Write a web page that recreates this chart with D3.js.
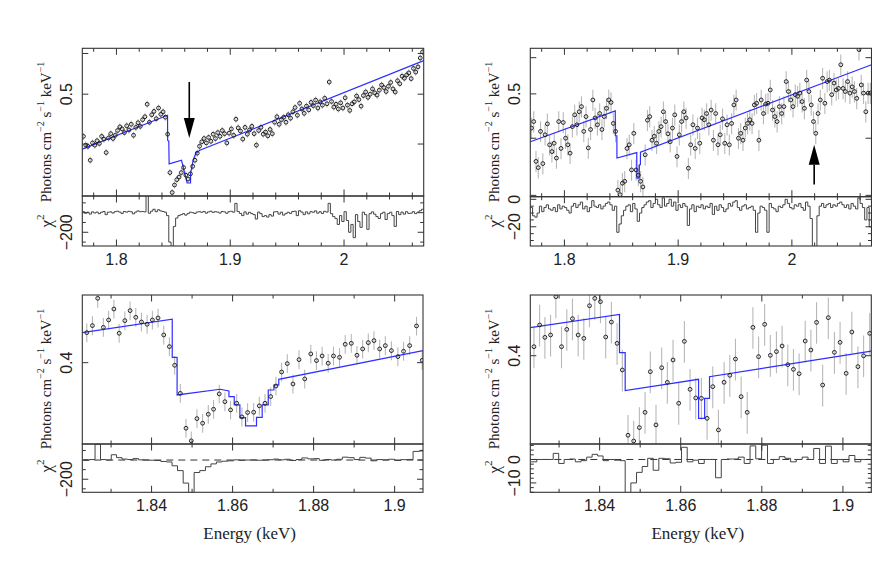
<!DOCTYPE html>
<html><head><meta charset="utf-8">
<script src="https://cdn.jsdelivr.net/npm/d3@7"></script>
<style>body{margin:0;background:#fff}svg{display:block}</style>
</head><body><svg id="c" width="872" height="563"></svg>
<script>
// ---------------- DATA ----------------
const energyTop = [1.771,1.773,1.775,1.777,1.779,1.781,1.783,1.785,1.787,1.789,
1.791,1.793,1.795,1.797,1.799,1.801,1.803,1.805,1.807,1.809,
1.811,1.813,1.815,1.817,1.819,1.821,1.823,1.825,1.827,1.829,
1.831,1.833,1.835,1.837,1.839,1.841,1.843,1.845,1.847,1.849,
1.851,1.853,1.855,1.857,1.859,1.861,1.863,1.865,1.867,1.869,
1.871,1.873,1.875,1.877,1.879,1.881,1.883,1.885,1.887,1.889,
1.891,1.893,1.895,1.897,1.899,1.901,1.903,1.905,1.907,1.909,
1.911,1.913,1.915,1.917,1.919,1.921,1.923,1.925,1.927,1.929,
1.931,1.933,1.935,1.937,1.939,1.941,1.943,1.945,1.947,1.949,
1.951,1.953,1.955,1.957,1.959,1.961,1.963,1.965,1.967,1.969,
1.971,1.973,1.975,1.977,1.979,1.981,1.983,1.985,1.987,1.989,
1.991,1.993,1.995,1.997,1.999,2.001,2.003,2.005,2.007,2.009,
2.011,2.013,2.015,2.017,2.019,2.021,2.023,2.025,2.027,2.029,
2.031,2.033,2.035,2.037,2.039,2.041,2.043,2.045,2.047,2.049,
2.051,2.053,2.055,2.057,2.059,2.061,2.063,2.065,2.067,2.069];

const fluxA = [0.414,0.398,0.396,0.372,0.402,0.398,0.406,0.401,0.414,0.409,
0.385,0.411,0.419,0.410,0.416,0.425,0.432,0.428,0.421,0.434,
0.426,0.437,0.416,0.431,0.440,0.433,0.446,0.452,0.478,0.441,
0.456,0.463,0.448,0.470,0.457,0.462,0.451,0.418,0.352,0.322,
0.333,0.341,0.345,0.352,0.360,0.348,0.342,0.350,0.362,0.372,
0.384,0.396,0.404,0.410,0.402,0.412,0.405,0.418,0.410,0.421,
0.414,0.425,0.419,0.402,0.420,0.428,0.416,0.447,0.430,0.424,
0.409,0.431,0.418,0.426,0.433,0.419,0.398,0.425,0.431,0.418,
0.422,0.415,0.427,0.419,0.441,0.452,0.437,0.446,0.451,0.441,
0.456,0.449,0.462,0.471,0.455,0.480,0.468,0.459,0.474,0.466,
0.482,0.475,0.487,0.470,0.483,0.476,0.491,0.479,0.528,0.484,
0.472,0.478,0.468,0.481,0.470,0.492,0.476,0.465,0.479,0.483,
0.496,0.488,0.474,0.497,0.505,0.493,0.500,0.512,0.503,0.498,
0.509,0.521,0.515,0.506,0.518,0.527,0.512,0.505,0.531,0.524,
0.542,0.537,0.545,0.550,0.536,0.561,0.552,0.565,0.588,0.604];

const residA = [10,-5,5,-15,8,-3,6,-10,4,12,
-20,5,8,-4,10,15,6,-8,12,5,
14,9,-12,6,18,10,12,8,180,-6,
15,35,10,30,18,12,5,-30,-300,-400,
-140,-55,-30,-20,-10,-25,-10,5,0,-8,
6,10,4,12,-5,8,15,3,10,6,
-4,12,8,-6,10,14,5,95,12,-8,
-30,8,-15,4,-10,-20,-65,6,-10,-40,
-30,-45,-20,-35,8,10,-15,5,-25,-10,
4,-8,12,15,-30,20,6,-20,8,-12,
10,4,18,-5,10,-8,14,6,95,-10,
-40,-60,-120,-30,-90,10,-80,-200,-120,-255,
-20,-90,-150,5,-20,-170,-10,8,-15,-40,
-60,-10,5,-70,-10,4,-30,-140,12,-20,
6,-15,10,-8,-5,10,-10,5,20,35];

const modelAE = [1.770,1.8449,1.8450,1.8460,1.8463,1.8572,1.8586,1.8621,1.8651,1.8652,1.8674,1.8698,1.8733,2.070];
const modelAV = [0.391,0.455,0.407,0.405,0.366,0.372,0.361,0.336,0.336,0.351,0.372,0.384,0.389,0.581];

const fluxB = [0.421,0.435,0.356,0.345,0.414,0.352,0.407,0.430,0.387,0.374,
0.390,0.362,0.435,0.380,0.433,0.400,0.387,0.371,0.424,0.450,
0.428,0.457,0.469,0.414,0.446,0.381,0.418,0.485,0.443,0.428,
0.453,0.418,0.446,0.465,0.485,0.479,0.431,0.414,0.308,0.301,
0.319,0.322,0.380,0.387,0.341,0.410,0.341,0.332,0.322,0.313,
0.368,0.438,0.446,0.396,0.404,0.390,0.414,0.424,0.457,0.435,
0.409,0.393,0.421,0.450,0.365,0.407,0.435,0.457,0.443,0.344,
0.387,0.428,0.380,0.421,0.390,0.443,0.439,0.453,0.428,0.461,
0.396,0.453,0.387,0.407,0.441,0.390,0.428,0.387,0.431,0.473,
0.485,0.400,0.410,0.396,0.421,0.431,0.439,0.431,0.473,0.477,
0.396,0.485,0.453,0.475,0.477,0.510,0.461,0.446,0.435,0.469,
0.453,0.469,0.532,0.506,0.485,0.469,0.498,0.494,0.502,0.481,
0.465,0.536,0.506,0.473,0.435,0.410,0.453,0.485,0.541,0.477,
0.532,0.536,0.498,0.528,0.510,0.514,0.579,0.514,0.506,0.532,
0.502,0.518,0.506,0.489,0.625,0.523,0.502,0.457,0.502,0.502];

const residB = [-6,-12,-13,-10,-5,-9,-6,-4,-7,-8,
-6,-9,-4,-7,-5,-6,-8,-10,-5,-3,
-6,-4,-2,-7,-5,-9,-6,-1,-5,-6,
-4,-7,-5,-3,-2,-4,-8,-5,-24,-18,
-12,-8,-5,-4,-9,-3,-7,-16,-10,-6,
-4,-2,-1,-6,-3,0,-4,-6,1,-5,
-3,0,-5,-2,-8,-4,-6,-3,-5,-19,
-7,-4,-9,-5,-6,-4,-7,-5,-6,-3,
-11,-5,-8,-4,-6,-9,-7,-3,-5,-2,
-1,-6,-8,-5,-4,-7,-6,-5,-8,-24,
-10,-5,-6,-8,-24,-3,-6,-7,-9,-5,
-6,-4,0,-3,-6,-7,-4,-5,-3,-6,
-8,-2,-5,-14,-40,-40,-12,-5,-3,-6,
-4,-3,-6,-4,-5,-3,-2,-4,-6,-4,
-7,-3,-5,-7,1,-3,-6,-15,-6,-20];

const modelBE = [1.770,1.8447,1.8448,1.8461,1.8462,1.8636,1.8637,1.8658,1.8659,1.8668,1.8669,2.070];
const modelBV = [0.393,0.459,0.405,0.405,0.362,0.372,0.327,0.327,0.350,0.350,0.373,0.579];

const energyC = [1.8240,1.8254,1.8267,1.8281,1.8294,1.8307,1.8320,1.8334,1.8347,1.8361,
1.8375,1.8389,1.8402,1.8416,1.8430,1.8444,1.8457,1.8471,1.8485,1.8498,
1.8512,1.8526,1.8540,1.8553,1.8567,1.8581,1.8595,1.8610,1.8623,1.8637,
1.8652,1.8666,1.8680,1.8694,1.8707,1.8721,1.8735,1.8749,1.8764,1.8778,
1.8793,1.8807,1.8821,1.8836,1.8849,1.8864,1.8878,1.8893,1.8907,1.8921,
1.8935,1.8949,1.8963,1.8977,1.8992,1.9008,1.9022,1.9037,1.9054,1.9068];

const fluxC = [0.4361,0.4450,0.4814,0.4428,0.4523,0.4668,0.4353,0.4514,0.4646,0.4558,
0.4497,0.4467,0.4523,0.4549,0.4332,0.4189,0.3970,0.3662,0.3312,0.3194,
0.3405,0.3360,0.3448,0.3498,0.3656,0.3575,0.3491,0.3559,0.3422,0.3465,
0.3468,0.3532,0.3559,0.3628,0.3740,0.3894,0.3989,0.3762,0.4035,0.3817,
0.4102,0.4024,0.4078,0.3993,0.4078,0.4062,0.4217,0.4229,0.4086,0.4161,
0.4237,0.4262,0.4161,0.4201,0.4141,0.4070,0.4133,0.4201,0.4446,0.4027];

const residC = [0,5,165,5,0,55,25,10,5,15,
2,0,-2,-5,-15,-20,-60,-110,-240,-340,
-130,-110,-70,-40,-20,-12,-8,2,-3,0,
1,-2,0,3,10,2,8,-5,5,22,
12,15,-3,6,0,8,30,25,5,28,
20,-8,5,2,8,-5,4,6,90,95];

const modelCE = [1.8229,1.8451,1.8451,1.8463,1.8463,1.8569,1.8591,1.8591,1.8604,1.8604,1.8618,1.8618,1.8632,1.8632,1.8659,1.8659,1.8673,1.8673,1.8688,1.8688,1.8702,1.8702,1.8714,1.8714,1.9070];
const modelCV = [0.4361,0.4532,0.4062,0.4062,0.3645,0.3705,0.3687,0.3628,0.3628,0.3542,0.3542,0.3415,0.3415,0.3334,0.3334,0.3418,0.3418,0.3542,0.3542,0.3697,0.3697,0.3751,0.3751,0.3813,0.4141];

const energyD = [1.8238,1.8252,1.8265,1.8279,1.8292,1.8306,1.8319,1.8333,1.8347,1.8361,
1.8375,1.8388,1.8402,1.8415,1.8429,1.8443,1.8456,1.8470,1.8484,1.8498,
1.8512,1.8525,1.8539,1.8553,1.8567,1.8581,1.8595,1.8609,1.8623,1.8637,
1.8651,1.8665,1.8679,1.8693,1.8707,1.8721,1.8735,1.8749,1.8764,1.8778,
1.8792,1.8807,1.8821,1.8836,1.8850,1.8864,1.8878,1.8892,1.8907,1.8921,
1.8935,1.8950,1.8964,1.8979,1.8993,1.9008,1.9022,1.9037,1.9051,1.9066];

const fluxD = [0.4105,0.4370,0.4217,0.4246,0.4741,0.4105,0.4315,0.4450,0.4246,0.4205,
0.4619,0.4718,0.4673,0.4221,0.4407,0.4145,0.3839,0.3181,0.3129,0.3252,
0.3398,0.3820,0.3277,0.3864,0.3705,0.3951,0.3488,0.4169,0.3631,0.3542,
0.3538,0.3340,0.3659,0.3230,0.3705,0.3780,0.3962,0.3555,0.3398,0.4340,
0.3989,0.4378,0.4004,0.4047,0.4113,0.3898,0.3846,0.3798,0.4173,0.4066,
0.4403,0.3676,0.4463,0.4039,0.4157,0.3802,0.4282,0.3876,0.3999,0.4266];

const residD = [-1,0,0,0,2.6,-1.7,0,0.2,-1,-0.5,
1,2.2,1.5,-0.5,0,-0.3,-0.5,-16,-10,-5.5,
-3,0.5,-4.6,0.5,0.3,-1.5,-1.2,5.2,-1,-0.3,
-1.7,0,0,-7.8,0,0.2,0.2,1,-1.7,5.8,
0.3,6.1,-1.7,0,1.2,0.5,-1,0,1,0,
4.7,-1.7,5.7,-1.7,0,-1,1.7,-1,0,0];

const modelDE = [1.8229,1.8449,1.8449,1.8463,1.8463,1.8644,1.8644,1.8659,1.8659,1.8671,1.8671,1.9070];
const modelDV = [0.4336,0.4506,0.4035,0.4035,0.3617,0.3737,0.3340,0.3340,0.3538,0.3538,0.3766,0.4054];

// relative 1-sigma flux errors per panel
const relErrA = 0.016, relErrB = 0.053, relErrC = 0.027, relErrD = 0.06;

// tick values and labels
const xTicksTop = [1.8, 1.9, 2.0], xTickLabelsTop = ["1.8", "1.9", "2"];
const xTicksBottom = [1.84, 1.86, 1.88, 1.90], xTickLabelsBottom = ["1.84", "1.86", "1.88", "1.9"];
const yTicksA = [0.4, 0.5, 0.6], yTicksB = [0.3, 0.4, 0.5, 0.6], yTicksC = [0.4], yTicksD = [0.4];
const yLabA = [[0.5, "0.5"]], yLabB = [[0.5, "0.5"]], yLabC = [[0.4, "0.4"]], yLabD = [[0.4, "0.4"]];
const rLabA = [[-200, "\u2212200"]], rLabB = [[0, "0"], [-20, "\u221220"]];
const rLabC = [[-200, "\u2212200"]], rLabD = [[0, "0"], [-10, "\u221210"]];

// arrows (energy, tail flux, tip flux)
const arrowA = {E: 1.864, from: 0.528, to: 0.411};
const arrowB = {E: 2.0196, from: 0.317, to: 0.387};

// ---------------- DRAWING ----------------
const svg = d3.select("#c");
const SANS = "'Liberation Sans', Arial, sans-serif";
const SERIF = "'Liberation Serif', 'Times New Roman', serif";
const FRAME = "#333";
let clipId = 0;

function xTickMarks(g, x, yEdge, dir, majors, minorStep) {
  const [d0, d1] = x.domain();
  const k0 = Math.ceil(d0 / minorStep - 1e-6), k1 = Math.floor(d1 / minorStep + 1e-6);
  for (let k = k0; k <= k1; k++) {
    const v = k * minorStep;
    const isMajor = majors.some(m => Math.abs(m - v) < minorStep / 10);
    const len = isMajor ? 6.5 : 3.5;
    g.append("line").attr("x1", x(v)).attr("x2", x(v))
      .attr("y1", yEdge).attr("y2", yEdge + dir * len)
      .attr("stroke", FRAME).attr("stroke-width", 1);
  }
}
function yTickMarks(g, y, xl, xr, vals, majorFn) {
  vals.forEach(v => {
    const len = majorFn(v) ? 6 : 3.5;
    g.append("line").attr("x1", xl).attr("x2", xl + len).attr("y1", y(v)).attr("y2", y(v))
      .attr("stroke", FRAME).attr("stroke-width", 1);
    g.append("line").attr("x1", xr).attr("x2", xr - len).attr("y1", y(v)).attr("y2", y(v))
      .attr("stroke", FRAME).attr("stroke-width", 1);
  });
}
function clip(g, x0, y0, w, h) {
  const id = "cl" + (clipId++);
  svg.append("defs").append("clipPath").attr("id", id)
    .append("rect").attr("x", x0).attr("y", y0).attr("width", w).attr("height", h);
  return g.append("g").attr("clip-path", `url(#${id})`);
}
function rotLabel(g, cx, cy, text, size, family) {
  return g.append("text").attr("transform", `translate(${cx},${cy}) rotate(-90)`)
    .attr("text-anchor", "middle").attr("dominant-baseline", "central")
    .attr("font-family", family).attr("font-size", size).attr("fill", "#222").text(text);
}

function panel(c) {
  const g = svg.append("g");
  const x = d3.scaleLinear().domain(c.xDomain).range([c.left, c.right]);
  const y = d3.scaleLog().domain(c.yDomain).range([c.mid, c.top]);
  const r = d3.scaleLinear().domain(c.rDomain).range([c.bot, c.mid]);
  const W = c.right - c.left;

  // main plot content
  const gm = clip(g, c.left, c.top, W, c.mid - c.top);
  gm.selectAll("line.err").data(c.E).enter().append("line")
    .attr("x1", (d, i) => x(d)).attr("x2", (d, i) => x(d))
    .attr("y1", (d, i) => y(c.F[i] * (1 - c.err))).attr("y2", (d, i) => y(c.F[i] * (1 + c.err)))
    .attr("stroke", "#b8b8b8").attr("stroke-width", 1.1);
  gm.append("path")
    .attr("d", d3.line().x(d => x(d[0])).y(d => y(d[1]))(c.mE.map((e, i) => [e, c.mV[i]])))
    .attr("fill", "none").attr("stroke", "#2e2eff").attr("stroke-width", 1.2);
  gm.selectAll("circle").data(c.E).enter().append("circle")
    .attr("cx", d => x(d)).attr("cy", (d, i) => y(c.F[i])).attr("r", 1.9)
    .attr("fill", "none").attr("stroke", "#1a1a1a").attr("stroke-width", 0.95);

  // arrow
  if (c.arrow) {
    const a = c.arrow, ax = x(a.E), yt = y(a.to), yf = y(a.from);
    const dir = yf < yt ? 1 : -1; // 1: pointing down
    const base = yt - dir * 20;
    g.append("line").attr("x1", ax).attr("x2", ax).attr("y1", yf).attr("y2", base)
      .attr("stroke", "#000").attr("stroke-width", 1.6);
    g.append("path").attr("d", `M${ax - 5.5},${base}L${ax + 5.5},${base}L${ax},${yt}Z`).attr("fill", "#000");
  }

  // residual content
  const gr = clip(g, c.left, c.mid, W, c.bot - c.mid);
  if (c.dashed) {
    gr.append("line").attr("x1", c.left).attr("x2", c.right).attr("y1", r(0)).attr("y2", r(0))
      .attr("stroke", "#333").attr("stroke-width", 1).attr("stroke-dasharray", "7,5");
  }
  let d = "";
  const n = c.E.length;
  c.E.forEach((e, i) => {
    const wl = i > 0 ? (e - c.E[i - 1]) / 2 : (c.E[1] - c.E[0]) / 2;
    const wr = i < n - 1 ? (c.E[i + 1] - e) / 2 : (e - c.E[i - 1]) / 2;
    const yy = r(c.R[i]);
    d += (i === 0 ? "M" : "L") + x(e - wl) + "," + yy + "L" + x(e + wr) + "," + yy;
  });
  gr.append("path").attr("d", d).attr("fill", "none").attr("stroke", "#444").attr("stroke-width", 1);

  // frames
  g.append("rect").attr("x", c.left).attr("y", c.top).attr("width", W).attr("height", c.mid - c.top)
    .attr("fill", "none").attr("stroke", FRAME).attr("stroke-width", 1.1);
  g.append("rect").attr("x", c.left).attr("y", c.mid).attr("width", W).attr("height", c.bot - c.mid)
    .attr("fill", "none").attr("stroke", FRAME).attr("stroke-width", 1.1);

  // x ticks
  xTickMarks(g, x, c.top, 1, c.xMaj, c.xMinor);
  xTickMarks(g, x, c.mid, -1, c.xMaj, c.xMinor);
  xTickMarks(g, x, c.mid, 1, c.xMaj, c.xMinor);
  xTickMarks(g, x, c.bot, -1, c.xMaj, c.xMinor);
  c.xMaj.forEach((v, i) => {
    g.append("text").attr("x", x(v)).attr("y", c.bot + 13).attr("text-anchor", "middle")
      .attr("dominant-baseline", "central").attr("font-family", SANS).attr("font-size", 16)
      .attr("fill", "#222").text(c.xLab[i]);
  });

  // y ticks main
  yTickMarks(g, y, c.left, c.right, c.yTicks, () => true);
  c.yLab.forEach(([v, t]) => rotLabel(g, c.left - 15.5, y(v), t, 16, SANS));

  // residual ticks
  const rv = [];
  for (let k = Math.ceil(c.rDomain[0] / c.rStep); k * c.rStep <= c.rDomain[1]; k++) rv.push(k * c.rStep);
  yTickMarks(g, r, c.left, c.right, rv, v => Math.abs(v % c.rMajor) < 1e-6);
  c.rLab.forEach(([v, t]) => rotLabel(g, c.left - 15.5, r(v), t, 16, SANS));

  // axis titles
  const yl = g.append("text").attr("transform", `translate(${c.left - 36},${c.ylabY}) rotate(-90)`)
    .attr("text-anchor", "middle").attr("dominant-baseline", "central")
    .attr("font-family", SERIF).attr("font-size", 15).attr("fill", "#222");
  yl.append("tspan").text("Photons cm");
  yl.append("tspan").attr("dy", -6).attr("font-size", 10).text("\u22122");
  yl.append("tspan").attr("dy", 6).text(" s");
  yl.append("tspan").attr("dy", -6).attr("font-size", 10).text("\u22121");
  yl.append("tspan").attr("dy", 6).text(" keV");
  yl.append("tspan").attr("dy", -6).attr("font-size", 10).text("\u22121");

  const ch = g.append("text").attr("transform", `translate(${c.left - 36},${c.chiY}) rotate(-90)`)
    .attr("text-anchor", "middle").attr("dominant-baseline", "central")
    .attr("font-family", SERIF).attr("font-size", 17).attr("fill", "#222");
  ch.append("tspan").text("\u03c7");
  ch.append("tspan").attr("dy", -6).attr("font-size", 11).text("2");

  if (c.xTitle) {
    g.append("text").attr("x", (c.left + c.right) / 2 - 3).attr("y", 533)
      .attr("text-anchor", "middle").attr("dominant-baseline", "central")
      .attr("font-family", SERIF).attr("font-size", 17).attr("fill", "#222").text("Energy (keV)");
  }
}

panel({left: 82.3, right: 423.7, top: 48.3, mid: 196, bot: 246,
  xDomain: [1.77, 2.07], yDomain: [0.317, 0.614], rDomain: [-340, 170],
  E: energyTop, F: fluxA, R: residA, err: relErrA, mE: modelAE, mV: modelAV,
  xMaj: xTicksTop, xLab: xTickLabelsTop, xMinor: 0.02,
  yTicks: yTicksA, yLab: yLabA, rStep: 100, rMajor: 200, rLab: rLabA,
  arrow: arrowA, dashed: false, ylabY: 132, chiY: 221, xTitle: false});

panel({left: 530.3, right: 871.5, top: 48.3, mid: 196.7, bot: 246,
  xDomain: [1.77, 2.07], yDomain: [0.298, 0.629], rDomain: [-34, 1.9],
  E: energyTop, F: fluxB, R: residB, err: relErrB, mE: modelBE, mV: modelBV,
  xMaj: xTicksTop, xLab: xTickLabelsTop, xMinor: 0.02,
  yTicks: yTicksB, yLab: yLabB, rStep: 5, rMajor: 20, rLab: rLabB,
  arrow: arrowB, dashed: false, ylabY: 132, chiY: 221, xTitle: false});

panel({left: 82.3, right: 423, top: 295, mid: 444, bot: 492.3,
  xDomain: [1.8229, 1.907], yDomain: [0.3165, 0.486], rDomain: [-336, 167],
  E: energyC, F: fluxC, R: residC, err: relErrC, mE: modelCE, mV: modelCV,
  xMaj: xTicksBottom, xLab: xTickLabelsBottom, xMinor: 0.01,
  yTicks: yTicksC, yLab: yLabC, rStep: 100, rMajor: 200, rLab: rLabC,
  arrow: null, dashed: true, ylabY: 379, chiY: 466, xTitle: true});

panel({left: 530.3, right: 871.3, top: 295, mid: 444, bot: 492.3,
  xDomain: [1.8229, 1.907], yDomain: [0.3102, 0.4764], rDomain: [-14, 6.6],
  E: energyD, F: fluxD, R: residD, err: relErrD, mE: modelDE, mV: modelDV,
  xMaj: xTicksBottom, xLab: xTickLabelsBottom, xMinor: 0.01,
  yTicks: yTicksD, yLab: yLabD, rStep: 2, rMajor: 10, rLab: rLabD,
  arrow: null, dashed: true, ylabY: 379, chiY: 467, xTitle: true});
</script>
</body></html>
